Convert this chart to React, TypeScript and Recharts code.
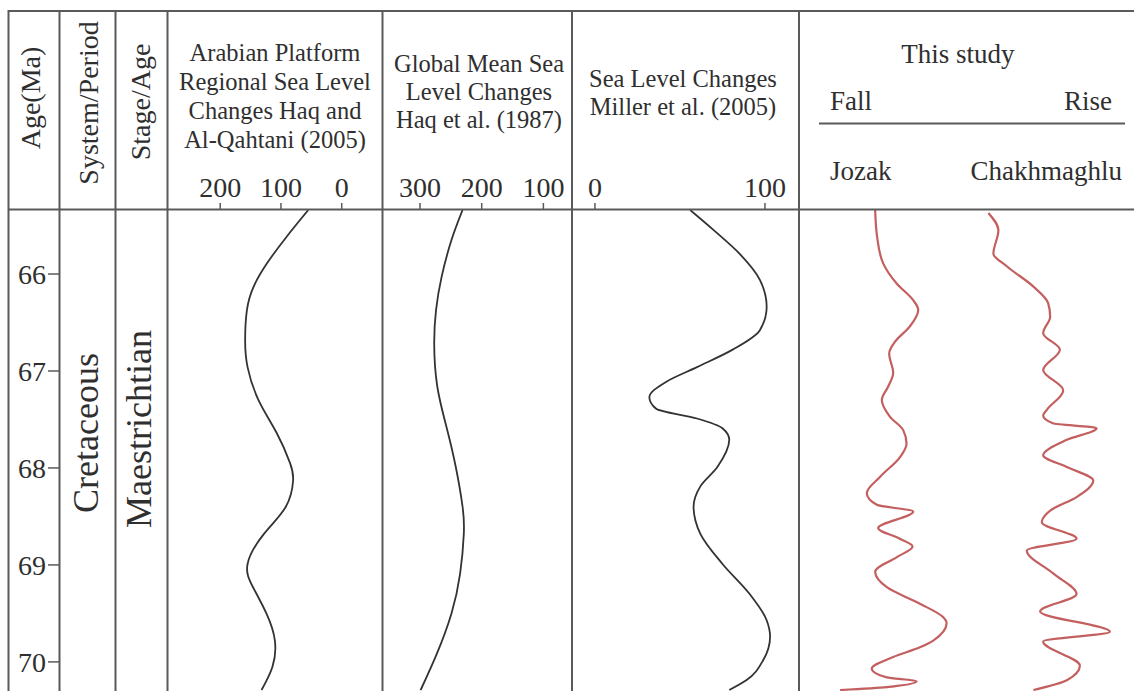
import { LineChart, Line, XAxis, YAxis } from "recharts";

const SERIF = '"Liberation Serif", "Times New Roman", serif';
const INK = "#2f2f2f";
const RULE = "#5a5a5a";
const RED = "#c45f5f";

// ages (Ma) run top (young) to bottom (old)
const ageTicks = [66, 67, 68, 69, 70];
const AGE_DOMAIN: [number, number] = [65.34, 70.3];

// Arabian Platform regional sea level, Haq & Al-Qahtani (2005), metres
const arabianAge = [65.34, 65.61, 65.89, 66.13, 66.37, 66.68, 66.96, 67.3, 67.64, 67.95, 68.13, 68.4, 68.68, 68.99, 69.23, 69.5, 69.78, 70.05, 70.29];
const arabianLevel = [55, 90, 123, 145, 156, 159, 155, 137, 107, 85, 80, 92, 128, 155, 146, 124, 110, 114, 132];
const arabianTicks = [200, 100, 0];

// Global mean sea level, Haq et al. (1987)
const globalAge = [65.34, 65.65, 66.03, 66.37, 66.72, 67.16, 67.58, 67.99, 68.4, 68.68, 69.09, 69.5, 69.92, 70.29];
const globalLevel = [231, 249, 265, 274, 277, 272, 257, 242, 231, 229, 235, 249, 273, 299];
const globalTicks = [300, 200, 100];

// Miller et al. (2005)
const millerAge = [65.34, 65.55, 65.79, 66.06, 66.34, 66.58, 66.78, 66.96, 67.11, 67.27, 67.39, 67.49, 67.59, 67.71, 67.99, 68.19, 68.4, 68.68, 68.99, 69.3, 69.57, 69.74, 69.98, 70.19, 70.29];
const millerLevel = [56, 70, 85, 97, 101, 97, 81, 60, 42, 32, 36, 60, 75, 79, 72, 62, 58, 62, 75, 91, 101, 103, 99, 89, 79];
const millerTicks = [0, 100];

// This study, relative index (fall 0 -> rise 100)
const jozakAge = [65.34, 65.62, 65.89, 66.1, 66.27, 66.37, 66.54, 66.7, 66.82, 67.02, 67.16, 67.3, 67.47, 67.61, 67.75, 67.89, 68.09, 68.26, 68.38, 68.45, 68.62, 68.73, 68.81, 68.92, 69.07, 69.23, 69.4, 69.54, 69.6, 69.78, 69.85, 69.95, 70.07, 70.16, 70.2, 70.26, 70.29];
const jozakLevel = [22.5, 23.1, 24.9, 29, 33.9, 35.4, 32.9, 28.4, 26.7, 27.9, 26.4, 24.5, 26.9, 30.9, 31.9, 29.9, 24, 20, 23, 33.9, 23.4, 29.9, 33.7, 29, 22.5, 26, 35.9, 42.9, 43.9, 39.9, 35.9, 27.9, 21.5, 26, 34.9, 26, 12];

const chakhAge = [65.37, 65.55, 65.79, 65.92, 66.13, 66.3, 66.44, 66.61, 66.78, 66.99, 67.2, 67.4, 67.46, 67.54, 67.59, 67.71, 67.87, 67.99, 68.13, 68.3, 68.44, 68.56, 68.73, 68.85, 69.09, 69.3, 69.48, 69.69, 69.79, 70.04, 70.19, 70.29];
const chakhLevel = [56.4, 59.4, 57.9, 61.9, 69.9, 74.3, 74.9, 72.8, 77.8, 72.8, 78.8, 73.9, 72.8, 75.7, 88.8, 79.9, 72.8, 79.9, 87.8, 82.8, 74.9, 72.4, 82.8, 67.9, 75.9, 82.8, 71.9, 92.8, 72.8, 83.8, 79.9, 69.9];

const zip = (ages: number[], levels: number[]) =>
  ages.map((age, i) => ({ age, level: levels[i] }));

const W = 1134;
const H = 691;
const TOP = 210; // header bottom rule
const HEAD = 60; // room for the top tick labels

interface Series {
  data: { age: number; level: number }[];
  stroke: string;
  width: number;
  curve: "monotone" | "natural";
}

interface PanelProps {
  left: number;
  width: number;
  domain: [number, number];
  reversed?: boolean;
  ticks?: number[];
  series: Series[];
}

const tickFont = { fill: INK, fontSize: 28, fontFamily: SERIF };

const Panel = ({ left, width, domain, reversed = false, ticks, series }: PanelProps) => (
  <div style={{ position: "absolute", left, top: TOP - HEAD }}>
    <LineChart
      layout="vertical"
      width={width}
      height={H - TOP + HEAD}
      margin={{ top: ticks ? 0 : HEAD, right: 0, bottom: 0, left: 0 }}
    >
      <XAxis
        type="number"
        orientation="top"
        domain={domain}
        reversed={reversed}
        allowDataOverflow
        ticks={ticks}
        interval={0}
        hide={!ticks}
        height={HEAD}
        axisLine={false}
        tickLine={{ stroke: RULE, strokeWidth: 1.5 }}
        tickSize={7}
        tickMargin={6}
        tick={tickFont}
      />
      <YAxis type="number" dataKey="age" domain={AGE_DOMAIN} allowDataOverflow hide />
      {series.map((s, i) => (
        <Line
          key={i}
          data={s.data}
          dataKey="level"
          type={s.curve}
          stroke={s.stroke}
          strokeWidth={s.width}
          dot={false}
          isAnimationActive={false}
        />
      ))}
    </LineChart>
  </div>
);

const AgeAxis = () => (
  <div style={{ position: "absolute", left: 0, top: TOP }}>
    <LineChart
      layout="vertical"
      width={70}
      height={H - TOP}
      data={ageTicks.map((age) => ({ age }))}
      margin={{ top: 0, right: 0, bottom: 0, left: 0 }}
    >
      <XAxis type="number" domain={[0, 1]} hide />
      <YAxis
        type="number"
        dataKey="age"
        domain={AGE_DOMAIN}
        allowDataOverflow
        ticks={ageTicks}
        interval={0}
        width={59}
        axisLine={false}
        tickLine={{ stroke: RULE, strokeWidth: 1.5 }}
        tickSize={11}
        tickMargin={2}
        tick={tickFont}
      />
    </LineChart>
  </div>
);

const Grid = () => (
  <svg
    width={W}
    height={H}
    fontFamily={SERIF}
    fill={INK}
    style={{ position: "absolute", left: 0, top: 0, pointerEvents: "none" }}
  >
    <g stroke={RULE} strokeWidth={2}>
      <line x1={8} y1={11} x2={W} y2={11} />
      <line x1={8} y1={209.5} x2={W} y2={209.5} />
      {[8.5, 59.5, 115.5, 167.5, 382.5, 572, 799].map((x) => (
        <line key={x} x1={x} y1={10} x2={x} y2={H} />
      ))}
      <line x1={819} y1={123.5} x2={1125} y2={123.5} />
    </g>

    {/* rotated column titles */}
    <g fontSize={28} textAnchor="middle" dominantBaseline="central">
      <text transform="translate(30 98) rotate(-90)">Age(Ma)</text>
      <text transform="translate(88 103) rotate(-90)">System/Period</text>
      <text transform="translate(140 102) rotate(-90)">Stage/Age</text>
    </g>
    <g fontSize={36} textAnchor="middle" dominantBaseline="central">
      <text transform="translate(86 433) rotate(-90)">Cretaceous</text>
      <text transform="translate(139 429) rotate(-90)">Maestrichtian</text>
    </g>

    {/* reference curve titles */}
    <g fontSize={24.5} textAnchor="middle">
      <text x={275} y={61}>Arabian Platform</text>
      <text x={275} y={90}>Regional Sea Level</text>
      <text x={275} y={119}>Changes Haq and</text>
      <text x={275} y={148}>Al-Qahtani (2005)</text>
      <text x={479} y={72}>Global Mean Sea</text>
      <text x={479} y={100}>Level Changes</text>
      <text x={479} y={128}>Haq et al. (1987)</text>
      <text x={683} y={87}>Sea Level Changes</text>
      <text x={683} y={115}>Miller et al. (2005)</text>
    </g>

    {/* this study */}
    <g fontSize={27}>
      <text x={958} y={63} textAnchor="middle">This study</text>
      <text x={830} y={110}>Fall</text>
      <text x={1112} y={110} textAnchor="end">Rise</text>
      <text x={830} y={180}>Jozak</text>
      <text x={1122} y={180} textAnchor="end">Chakhmaghlu</text>
    </g>
  </svg>
);

const App = () => (
  <div
    style={{
      position: "absolute",
      left: 0,
      top: 0,
      width: W,
      height: H,
      background: "#fff",
      overflow: "hidden",
      fontFamily: SERIF,
    }}
  >
    <AgeAxis />
    <Panel
      left={168}
      width={215}
      domain={[-68, 286]}
      reversed
      ticks={arabianTicks}
      series={[{ data: zip(arabianAge, arabianLevel), stroke: "#333", width: 1.8, curve: "natural" }]}
    />
    <Panel
      left={383}
      width={190}
      domain={[52, 360]}
      reversed
      ticks={globalTicks}
      series={[{ data: zip(globalAge, globalLevel), stroke: "#333", width: 1.8, curve: "natural" }]}
    />
    <Panel
      left={572}
      width={228}
      domain={[-13.5, 120.6]}
      ticks={millerTicks}
      series={[{ data: zip(millerAge, millerLevel), stroke: "#333", width: 1.8, curve: "monotone" }]}
    />
    <Panel
      left={800}
      width={334}
      domain={[0, 100]}
      series={[
        { data: zip(jozakAge, jozakLevel), stroke: RED, width: 2.2, curve: "monotone" },
        { data: zip(chakhAge, chakhLevel), stroke: RED, width: 2.2, curve: "monotone" },
      ]}
    />
    <Grid />
  </div>
);

export default App;
